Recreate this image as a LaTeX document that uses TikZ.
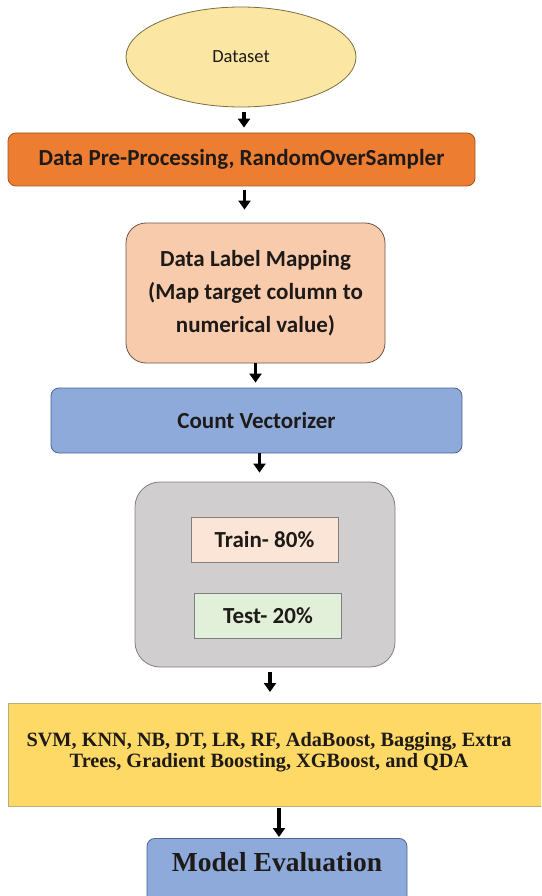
\documentclass[tikz,border=0pt]{standalone}
\usepackage{fontspec}
\setmainfont{Carlito}
\newfontfamily\timesfont{Liberation Serif}
\usetikzlibrary{shapes.geometric,arrows.meta}

\definecolor{dsfill}{HTML}{FCE6A4}
\definecolor{dsline}{HTML}{7A6E3E}
\definecolor{orng}{HTML}{ED7D31}
\definecolor{orngline}{HTML}{A9541C}
\definecolor{peach}{HTML}{F8CBAD}
\definecolor{peachline}{HTML}{6E5446}
\definecolor{blu}{HTML}{8EAADB}
\definecolor{bluline}{HTML}{4B6594}
\definecolor{grey}{HTML}{D0CECE}
\definecolor{greyline}{HTML}{7F7F7F}
\definecolor{trainfill}{HTML}{FBE5D6}
\definecolor{testfill}{HTML}{E2F0D9}
\definecolor{ylw}{HTML}{FFD966}
\definecolor{ylwline}{HTML}{B4AE82}
\definecolor{ink}{HTML}{1E1A18}

\begin{document}
\begin{tikzpicture}[x=1pt,y=-1pt,
    box/.style={draw,line width=0.8pt,rounded corners=8pt,align=center,text=ink,
      font=\bfseries\fontsize{23}{33}\selectfont},
    part/.style={draw=greyline,line width=0.8pt,minimum width=147pt,minimum height=45pt,
      text=ink,font=\bfseries\fontsize{23}{28}\selectfont},
    arr/.style={-{Triangle[width=12pt,length=9pt]},line width=3.6pt}]
    \path[use as bounding box,clip] (0,0) rectangle (541,896);

    % boxes
    \node[ellipse,draw=dsline,fill=dsfill,line width=0.8pt,minimum width=230pt,minimum height=100pt,
      text=ink,font=\fontsize{18.5}{22}\selectfont] (ds) at (241,57) {Dataset};
    \node[box,fill=orng,draw=orngline,minimum width=467pt,minimum height=53pt] (prep) at (241.5,159.5) {Data Pre-Processing, RandomOverSampler};
    \node[box,fill=peach,draw=peachline,rounded corners=20pt,minimum width=259pt,minimum height=140pt] (map) at (255.5,293)
      {Data Label Mapping\\(Map target column to\\numerical value)};
    \node[box,fill=blu,draw=bluline,minimum width=411pt,minimum height=65pt] (vec) at (256.5,420.5) {Count Vectorizer};

    \node[box,fill=grey,draw=greyline,rounded corners=25pt,minimum width=260pt,minimum height=185pt] (split) at (265,574.5) {};
    \node[part,fill=trainfill] (train) at (264.5,539.5) {Train- 80\%};
    \node[part,fill=testfill] (test) at (268,615.5) {Test- 20\%};

    \node[draw=ylwline,fill=ylw,line width=0.8pt,minimum width=545pt,minimum height=103pt,anchor=north west] (algo) at (8,703) {};
    \node[align=center,text=ink,font=\timesfont\bfseries\fontsize{20.3}{21.5}\selectfont] (algotxt) at (269,752)
      {SVM, KNN, NB, DT, LR, RF, AdaBoost, Bagging, Extra\\Trees, Gradient Boosting, XGBoost, and QDA};

    \node[box,fill=blu,draw=bluline,minimum width=260pt,anchor=north,inner ysep=6pt,text height=27pt,text depth=40pt,
      font=\timesfont\bfseries\fontsize{27.5}{30}\selectfont] (eval) at (277,838) {Model Evaluation};

    % arrows
    \draw[arr,shorten <=5pt,shorten >=5pt] ([xshift=3pt]ds.south) -- ([xshift=3pt]ds.south |- prep.north);
    \draw[arr,shorten <=4pt,shorten >=13pt] ([xshift=3pt]prep.south) -- ([xshift=3pt]prep.south |- map.north);
    \draw[arr,shorten >=5pt] (map.south) -- (map.south |- vec.north);
    \draw[arr,shorten >=9pt] ([xshift=3pt]vec.south) -- ([xshift=3pt]vec.south |- split.north);
    \draw[arr,shorten <=5pt,shorten >=11pt] ([xshift=5pt]split.south) -- ([xshift=5pt]split.south |- algo.north);
    \draw[arr,line width=4.5pt,shorten <=1pt,shorten >=1pt] ([xshift=2pt]eval.north |- algo.south) -- ([xshift=2pt]eval.north);
\end{tikzpicture}
\end{document}
